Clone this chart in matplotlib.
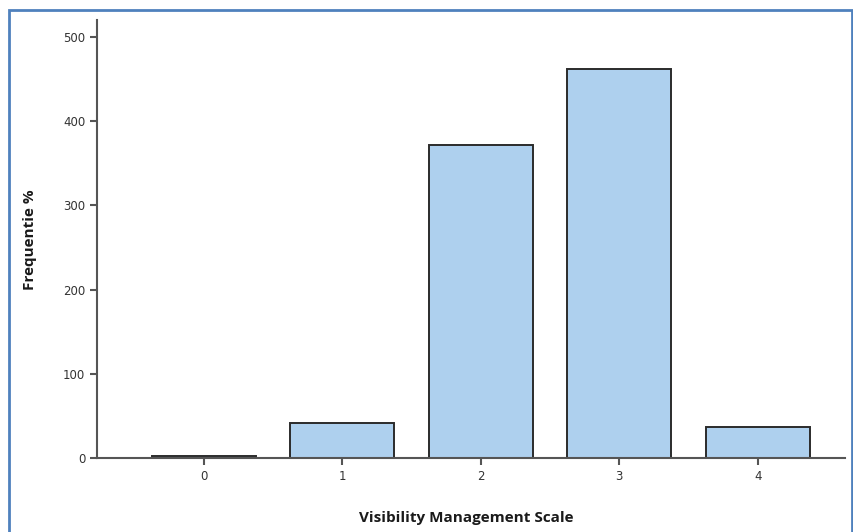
import matplotlib.pyplot as plt
from matplotlib.patches import Rectangle

# scale categories and their frequencies
categories = [0, 1, 2, 3, 4]
freq = [2, 41, 372, 462, 37]
yticks = [0, 100, 200, 300, 400, 500]

fig = plt.figure(figsize=(8.54, 5.32), dpi=100)
ax = fig.add_axes([97 / 854, 1 - 458 / 532, (845 - 97) / 854, 438 / 532])

ax.bar(categories, freq, width=0.75, color="#aed0ee", edgecolor="#2b2b2b", linewidth=1.4)

ax.set_xlim(-0.77, 4.63)
ax.set_ylim(0, 520)
ax.set_xticks(categories)
ax.set_yticks(yticks)
ax.tick_params(axis="both", labelsize=8.5, colors="#555555", labelcolor="#333333",
               length=5, width=1.5)

for side in ["top", "right"]:
    ax.spines[side].set_visible(False)
for side in ["left", "bottom"]:
    ax.spines[side].set_color("#555555")
    ax.spines[side].set_linewidth(1.5)

fig.text(466 / 854, 1 - 518 / 532, "Visibility Management Scale", ha="center", va="center",
         fontsize=11, fontweight="bold", family="Open Sans", color="#1a1a1a")
fig.text(30 / 854, 1 - 240 / 532, "Frequentie %", ha="center", va="center", rotation=90,
         fontsize=11, fontweight="bold", family="Open Sans", color="#1a1a1a")

# blue frame round the picture
fig.patches.append(Rectangle((9 / 854, -0.05), 843 / 854, 1.05 - 10 / 532,
                             transform=fig.transFigure, fill=False,
                             edgecolor="#4f81bd", linewidth=2))

fig.savefig("out.png", dpi=100)
